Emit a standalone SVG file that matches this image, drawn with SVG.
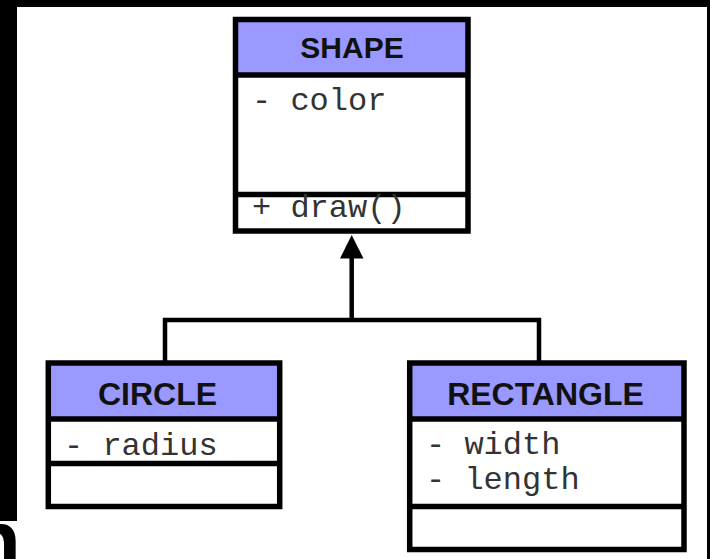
<svg xmlns="http://www.w3.org/2000/svg" width="710" height="559" viewBox="0 0 710 559">
<style>
.box{fill:none;stroke:#000;stroke-width:5.5;stroke-linejoin:miter}
.hdr{fill:#9999ff}
.body{fill:#fff}
.sep{stroke:#000;stroke-width:5.5}
.title{font-family:"Liberation Sans",Arial,sans-serif;font-weight:bold;fill:#111;text-anchor:middle}
.mono{font-family:"Liberation Mono","Courier New",monospace;font-size:32px;fill:#333}
.conn{fill:none;stroke:#000;stroke-width:4.5}
</style>
<rect x="0" y="0" width="710" height="559" fill="#000"/>
<rect x="17" y="7" width="690" height="552" fill="#fff"/>
<rect x="0" y="521" width="17" height="38" fill="#fff"/>
<text x="21" y="570" font-family="'Liberation Sans',Arial,sans-serif" font-weight="bold" font-size="85" text-anchor="end" fill="#000">n</text>

<g id="connectors">
<polyline class="conn" points="165,363 165,320 539,320 539,363"/>
<line class="conn" x1="351.7" y1="320" x2="351.7" y2="257"/>
<path d="M351.7,235 L363.5,258.5 L340,258.5 Z" fill="#000"/>
</g>

<g id="shape">
<rect class="body" x="235.5" y="19.5" width="232.5" height="211.5"/>
<rect class="hdr" x="235.5" y="19.5" width="232.5" height="55.5"/>
<line class="sep" x1="235.5" y1="75" x2="468" y2="75"/>
<line class="sep" x1="235.5" y1="194.5" x2="468" y2="194.5"/>
<rect class="box" x="235.5" y="19.5" width="232.5" height="211.5"/>
<text class="title" x="352" y="58" font-size="30">SHAPE</text>
<text class="mono" x="252" y="110" xml:space="preserve">- color</text>
<text class="mono" x="252" y="217" xml:space="preserve">+ draw()</text>
</g>

<g id="circle">
<rect class="body" x="48.3" y="363" width="231.4" height="143.5"/>
<rect class="hdr" x="48.3" y="363" width="231.4" height="56"/>
<line class="sep" x1="48.3" y1="419" x2="279.7" y2="419"/>
<line class="sep" x1="48.3" y1="463.5" x2="279.7" y2="463.5"/>
<rect class="box" x="48.3" y="363" width="231.4" height="143.5"/>
<text class="title" x="157.5" y="404.5" font-size="32">CIRCLE</text>
<text class="mono" x="64" y="455" xml:space="preserve">- radius</text>
</g>

<g id="rectangle">
<rect class="body" x="409.7" y="363" width="274.3" height="186.5"/>
<rect class="hdr" x="409.7" y="363" width="274.3" height="56"/>
<line class="sep" x1="409.7" y1="419" x2="684" y2="419"/>
<line class="sep" x1="409.7" y1="506.5" x2="684" y2="506.5"/>
<rect class="box" x="409.7" y="363" width="274.3" height="186.5"/>
<text class="title" x="545.5" y="404.5" font-size="32">RECTANGLE</text>
<text class="mono" x="426" y="454" xml:space="preserve">- width</text>
<text class="mono" x="426" y="489" xml:space="preserve">- length</text>
</g>
</svg>
